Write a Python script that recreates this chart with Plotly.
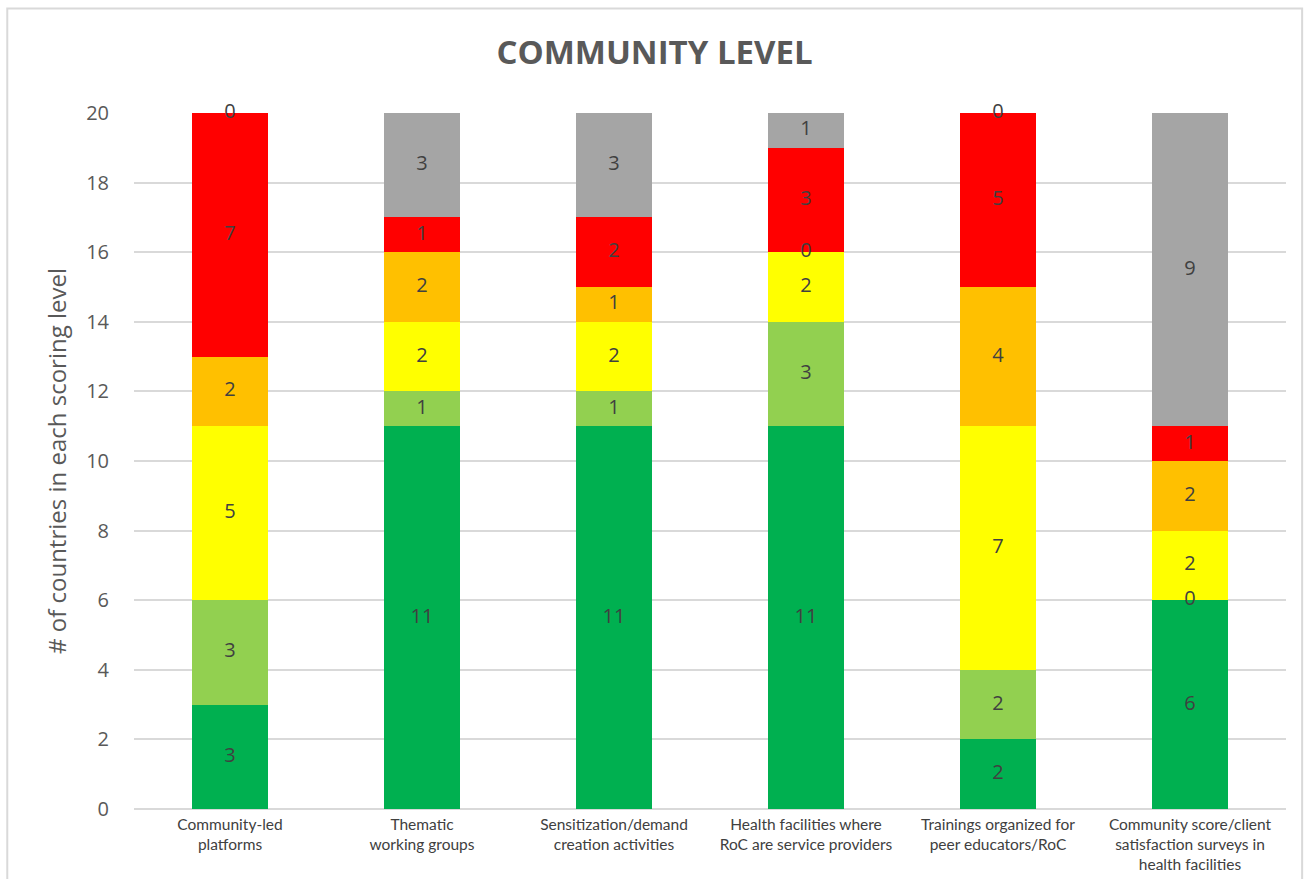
import plotly.graph_objects as go

categories = [
    "Community-led<br>platforms",
    "Thematic<br>working groups",
    "Sensitization/demand<br>creation activities",
    "Health facilities where<br>RoC are service providers",
    "Trainings organized for<br>peer educators/RoC",
    "Community score/client<br>satisfaction surveys in<br>health facilities",
]
level_names = ["Level 1", "Level 2", "Level 3", "Level 4", "Level 5", "Not scored"]
dark_green = [3, 11, 11, 11, 2, 6]
light_green = [3, 1, 1, 3, 2, 0]
yellow = [5, 2, 2, 2, 7, 2]
orange = [2, 2, 1, 0, 4, 2]
red = [7, 1, 2, 3, 5, 1]
gray = [0, 3, 3, 1, 0, 9]
series = [dark_green, light_green, yellow, orange, red, gray]
colors = ["#00B050", "#92D050", "#FFFF00", "#FFC000", "#FF0000", "#A5A5A5"]
y_ticks = list(range(0, 21, 2))

fig = go.Figure()
base = [0] * len(categories)
label_x, label_y, label_t = [], [], []
for name, vals, col in zip(level_names, series, colors):
    fig.add_trace(go.Bar(x=categories, y=vals, name=name, marker_color=col,
                         marker_line_width=0, hoverinfo="y"))
    for i, v in enumerate(vals):
        label_x.append(categories[i])
        label_y.append(base[i] + v / 2)
        label_t.append(str(v))
        base[i] += v

fig.add_trace(go.Scatter(x=label_x, y=label_y, text=label_t, mode="text",
                         textfont=dict(family="Open Sans", size=20, color="#404040"),
                         showlegend=False, hoverinfo="skip", cliponaxis=False))

fig.update_layout(
    barmode="stack",
    bargap=0.604,
    width=1309, height=879,
    margin=dict(l=134, r=23, t=113, b=70),
    plot_bgcolor="white", paper_bgcolor="white",
    showlegend=False,
    title=dict(text="<b>COMMUNITY LEVEL</b>", x=0.5, xanchor="center", y=0.94, yanchor="middle",
               font=dict(family="Open Sans", size=33, color="#595959")),
    xaxis=dict(tickfont=dict(family="Lato", size=15.5, color="#404040"), showgrid=False,
               showline=False, ticks="outside", ticklen=1, tickcolor="rgba(0,0,0,0)", tickangle=0,
               automargin=False),
    yaxis=dict(range=[0, 20], tickvals=y_ticks, showgrid=True, gridcolor="#D9D9D9", gridwidth=2,
               zeroline=True, zerolinecolor="#D9D9D9", zerolinewidth=2,
               tickfont=dict(family="Open Sans", size=20, color="#595959"),
               ticks="outside", ticklen=20, tickcolor="rgba(0,0,0,0)", automargin=False,
               title=dict(text="# of countries in each scoring level", standoff=12,
                          font=dict(family="Open Sans", size=24, color="#595959"))),
    font=dict(family="Open Sans"),
)
fig.add_shape(type="rect", xref="paper", yref="paper", x0=-0.110, x1=1.014, y0=-0.12, y1=1.150,
              line=dict(color="#D9D9D9", width=2), fillcolor="rgba(0,0,0,0)", layer="below")
fig.write_html("out.html")
